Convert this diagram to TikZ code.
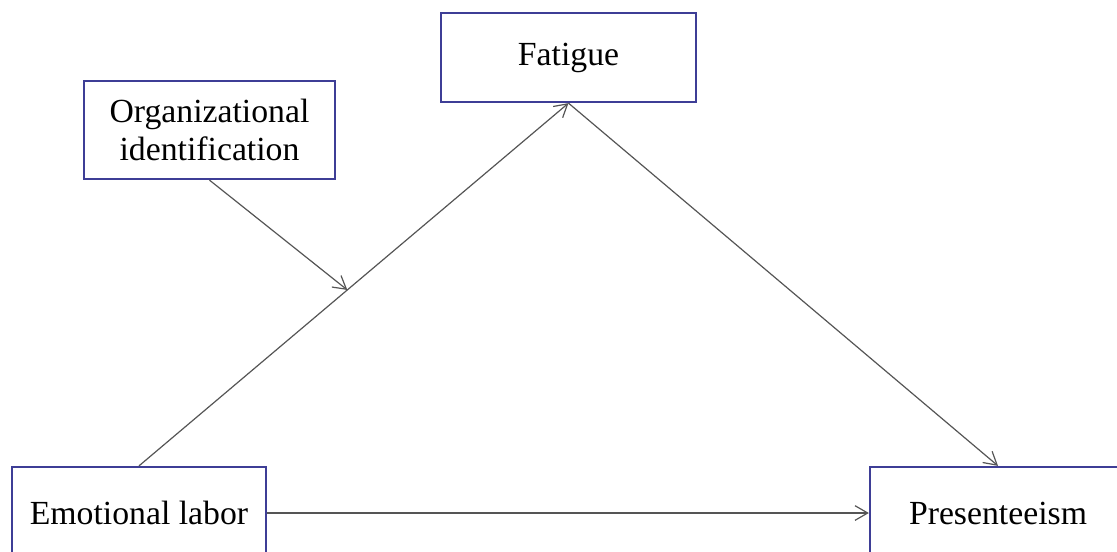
\documentclass[tikz,border=0pt]{standalone}
\usepackage{fontspec}
\setmainfont{Liberation Serif}
\usetikzlibrary{arrows.meta}
\definecolor{boxblue}{RGB}{62,62,150}
\definecolor{linegray}{RGB}{85,85,85}
\tikzset{
  varbox/.style={draw=boxblue, line width=1.7pt, fill=white, align=center,
    inner sep=0pt, font=\fontsize{25.3}{28.5}\selectfont},
  path/.style={draw=linegray, line width=0.9pt,
    -{Straight Barb[length=9.5pt,width=11pt,line width=0.9pt]}}
}
\begin{document}
\begin{tikzpicture}[x=0.75pt,y=0.75pt,yscale=-1,xscale=1]
\useasboundingbox (0,0) rectangle (1117,551);
\clip (0,0) rectangle (1117,551);

% Variables
\node [varbox, minimum width=190.5pt, minimum height=69pt] (emo) at (139,513) {Emotional labor};
\node [varbox, minimum width=192pt, minimum height=69pt] (pres) at (998,513) {Presenteeism};
\node [varbox, minimum width=191pt, minimum height=66.75pt] (fat) at (568.5,57.5) {Fatigue};
\node [varbox, minimum width=188.25pt, minimum height=73.5pt] (org) at (209.5,130) {Organizational\\identification};

% Paths
\draw [path] (emo.north) -- (fat.south) coordinate [pos=0.485] (mod);
\draw [path] (fat.south) -- (pres.north);
\draw [path] (emo.east) -- (pres.west);
\draw [path] (org.south) -- (mod);

\end{tikzpicture}
\end{document}
